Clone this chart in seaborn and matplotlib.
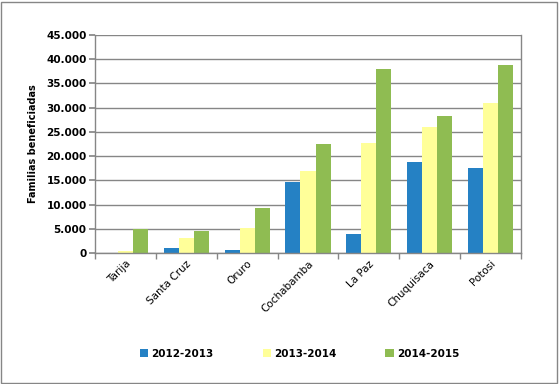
import numpy as np
import pandas as pd
import matplotlib
matplotlib.use("Agg")
import matplotlib.pyplot as plt
import seaborn as sns
from matplotlib.ticker import FuncFormatter, FixedLocator
from matplotlib.patches import Rectangle

departamentos = ['Tarija', 'Santa Cruz', 'Oruro', 'Cochabamba', 'La Paz', 'Chuquisaca', 'Potosi']
periodos = ['2012-2013', '2013-2014', '2014-2015']
v_2012 = [0, 1100, 600, 14700, 3900, 18800, 17600]
v_2013 = [400, 3150, 5200, 17000, 22700, 26000, 31000]
v_2014 = [5000, 4600, 9300, 22500, 38000, 28300, 38800]
colores = ['#2581C4', '#FFFF99', '#8FBC52']

df = pd.DataFrame({
    'Departamento': departamentos * 3,
    'Periodo': np.repeat(periodos, len(departamentos)),
    'Familias': v_2012 + v_2013 + v_2014,
})

sns.set_theme(style="white")
plt.rcParams['font.family'] = ['DejaVu Sans']
plt.rcParams['text.color'] = 'black'
plt.rcParams['xtick.color'] = 'black'
plt.rcParams['ytick.color'] = 'black'
plt.rcParams['axes.labelcolor'] = 'black'

fig = plt.figure(figsize=(5.6, 3.84), dpi=100)
ax = fig.add_axes([95/560, 1 - 253/384, (521-95)/560, (253-35)/384])

sns.barplot(data=df, x='Departamento', y='Familias', hue='Periodo',
            palette=colores, width=0.74, gap=0, saturation=1,
            edgecolor='none', ax=ax, legend=True)

ax.set_ylim(0, 45000)
ax.set_xlim(-0.5, len(departamentos) - 0.5)
ax.set_yticks(np.arange(0, 45001, 5000))
ax.yaxis.set_major_formatter(FuncFormatter(lambda v, p: f"{int(v):,}".replace(',', '.')))
ax.grid(axis='y', color='#868686', linewidth=1)
ax.set_axisbelow(True)
for s in ['left', 'bottom', 'right']:
    ax.spines[s].set_color('#868686')
    ax.spines[s].set_linewidth(1)
ax.spines['top'].set_visible(False)

ax.tick_params(axis='y', which='major', left=True, length=4, color='#868686',
               labelcolor='black', labelsize=7.5, pad=2)
for lab in ax.get_yticklabels():
    lab.set_fontweight('bold')
ax.tick_params(axis='x', which='major', length=0, labelcolor='black', labelsize=7.5, pad=4)
ax.xaxis.set_minor_locator(FixedLocator(np.arange(-0.5, len(departamentos), 1)))
ax.tick_params(axis='x', which='minor', bottom=True, length=4, color='#868686')
plt.setp(ax.get_xticklabels(), rotation=45, ha='right', rotation_mode='anchor')

ax.set_xlabel('')
ax.set_ylabel('Familias beneficiadas', fontsize=7, fontweight='bold', labelpad=6, color='black')

ax.legend(loc='center', bbox_to_anchor=(0.535, 1 - 354/384), bbox_transform=fig.transFigure,
          ncol=3, frameon=False, prop={'size': 7.5, 'weight': 'bold'},
          handlelength=0.8, handleheight=0.8, handletextpad=0.3, columnspacing=4.7)

fig.patches.append(Rectangle((1/560, 1/384), 556/560, 381/384, transform=fig.transFigure,
                             fill=False, edgecolor='#868686', linewidth=1))

fig.savefig('out.png', dpi=100)
